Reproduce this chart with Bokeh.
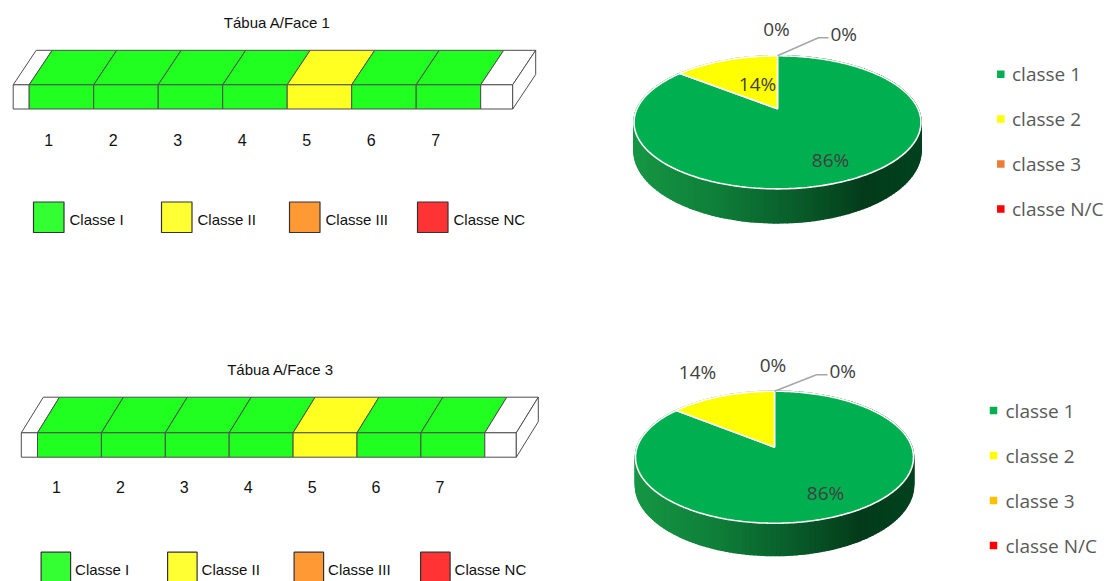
import numpy as np
from bokeh.plotting import figure
from bokeh.models import Range1d
from bokeh.core.properties import value
from bokeh.embed import file_html
from bokeh.resources import INLINE

# ---------------- data ----------------
segment_numbers = [1, 2, 3, 4, 5, 6, 7]
board_titles = ["Tábua A/Face 1", "Tábua A/Face 3"]
face1_classes = ["Classe I", "Classe I", "Classe I", "Classe I", "Classe II", "Classe I", "Classe I"]
face3_classes = ["Classe I", "Classe I", "Classe I", "Classe I", "Classe II", "Classe I", "Classe I"]

class_names = ["Classe I", "Classe II", "Classe III", "Classe NC"]
class_swatch_colors = ["#33FF33", "#FFFF33", "#FF9933", "#FF3333"]
class_beam_colors = ["#21FF21", "#FFFF21", "#FF9933", "#FF3333"]

pie_legend_names = ["classe 1", "classe 2", "classe 3", "classe N/C"]
pie_colors_face1 = ["#00B050", "#FFFF00", "#ED7D31", "#FF0000"]
pie_colors_face3 = ["#00B050", "#FFFF00", "#FFC000", "#FF0000"]

# ---------------- layout / style ----------------
NARROW = value("'Liberation Sans Narrow', 'Arial Narrow', 'Liberation Sans', sans-serif")
PIEFONT = value("Open Sans")

panels = [
    dict(title=board_titles[0], classes=face1_classes, pie_colors=pie_colors_face1,
         beam=dict(x0=12.7, yt=84.3, H=24.2, end_l=16.0, seg_w=64.5, end_r=32.0, dx=23.0, dy=34.5),
         title_xy=(276.7, 21.7), tick_y=139.5, tick_dx=19.5,
         legend=dict(x0=33.0, y0=201.5, box=30.5, step=128.0, text_dx=36.0),
         pie=dict(cx=777.0, cy=108.3, a=140.5, b=63.8, k=0.203, h=27.1),
         label_off=[(53, 51), (-20, -25), (-1, -80), None],
         leader=(41.0, -18.0, 10.0),
         pie_legend=dict(mx=1000.3, tx=1011.5, y0=73.7, step=44.9)),
    dict(title=board_titles[1], classes=face3_classes, pie_colors=pie_colors_face3,
         beam=dict(x0=20.8, yt=432.3, H=24.4, end_l=16.2, seg_w=63.9, end_r=31.5, dx=22.0, dy=35.6),
         title_xy=(280.0, 368.5), tick_y=486.7, tick_dx=19.0,
         legend=dict(x0=40.6, y0=551.7, box=29.5, step=126.5, text_dx=34.0),
         pie=dict(cx=774.0, cy=446.7, a=137.4, b=64.5, k=0.1515, h=27.4),
         label_off=[(51, 46), (-77, -75), (-1.5, -82), None],
         leader=(42.0, -16.4, 11.0),
         pie_legend=dict(mx=993.0, tx=1005.0, y0=410.0, step=45.0)),
]

p = figure(width=1118, height=581, output_backend="svg", toolbar_location=None,
           x_range=Range1d(0, 1118), y_range=Range1d(581, 0),
           min_border=0, x_axis_location=None, y_axis_location=None,
           background_fill_color="white", border_fill_color="white")
p.outline_line_color = None
p.grid.visible = False

EDGE = "#4d4d4d"


def hex_rgb(h):
    h = h.lstrip("#")
    return tuple(int(h[i:i + 2], 16) for i in (0, 2, 4))


def shade(color, t):
    # darkening of the pie wall from left (lit) to right (shadow)
    f = np.interp(t, [0.0, 0.3, 0.6, 0.8, 1.0], [0.86, 0.72, 0.50, 0.34, 0.38])
    r, g, b = hex_rgb(color)
    lift = 22 * (1 - t)
    return "#%02x%02x%02x" % (int(min(255, r * f + lift)), int(min(255, g * f)), int(min(255, b * f)))


def project(pie, theta, r=1.0):
    u = r * np.sin(theta)
    v = r * np.cos(theta)
    d = 1.0 + pie["k"] * v
    return pie["cx"] + pie["a"] * u / d, pie["cy"] - pie["b"] * v / d


def drop(pie, theta):
    return pie["h"] / (1.0 + pie["k"] * np.cos(theta))


for panel in panels:
    bm = panel["beam"]
    color_of = dict(zip(class_names, class_beam_colors))

    # ---- beam: pieces along the length (white ends + graded segments) ----
    pieces = [(bm["x0"], bm["x0"] + bm["end_l"], "white")]
    for n, cls in zip(segment_numbers, panel["classes"]):
        xl = bm["x0"] + bm["end_l"] + (n - 1) * bm["seg_w"]
        pieces.append((xl, xl + bm["seg_w"], color_of[cls]))
    x_last = pieces[-1][1]
    pieces.append((x_last, x_last + bm["end_r"], "white"))

    yt, H, dx, dy = bm["yt"], bm["H"], bm["dx"], bm["dy"]
    top_xs = [[xl, xr, xr + dx, xl + dx] for xl, xr, _ in pieces]
    top_ys = [[yt, yt, yt - dy, yt - dy] for _ in pieces]
    front_xs = [[xl, xr, xr, xl] for xl, xr, _ in pieces]
    front_ys = [[yt, yt, yt + H, yt + H] for _ in pieces]
    fills = [c for _, _, c in pieces]
    p.patches(top_xs, top_ys, fill_color=fills, line_color=EDGE, line_width=1)
    p.patches(front_xs, front_ys, fill_color=fills, line_color=EDGE, line_width=1)
    xr_end = pieces[-1][1]
    p.patch([xr_end, xr_end + dx, xr_end + dx, xr_end],
            [yt, yt - dy, yt - dy + H, yt + H],
            fill_color="white", line_color=EDGE, line_width=1)

    # segment numbers
    tick_x = [bm["x0"] + bm["end_l"] + (n - 1) * bm["seg_w"] + panel["tick_dx"] for n in segment_numbers]
    p.text(x=tick_x, y=[panel["tick_y"]] * len(tick_x), text=[str(n) for n in segment_numbers],
           text_font=NARROW, text_font_size="16px", text_align="center",
           text_baseline="middle", text_color="#111111")

    # title
    tx, ty = panel["title_xy"]
    p.text(x=[tx], y=[ty], text=[panel["title"]], text_font=NARROW, text_font_size="15px",
           text_align="center", text_baseline="middle", text_color="#111111")

    # class legend under the beam
    lg = panel["legend"]
    bx = [lg["x0"] + i * lg["step"] for i in range(len(class_names))]
    p.quad(left=bx, right=[x + lg["box"] for x in bx], top=[lg["y0"]] * 4,
           bottom=[lg["y0"] + lg["box"]] * 4, fill_color=class_swatch_colors,
           line_color="#333333", line_width=1.2)
    p.text(x=[x + lg["text_dx"] for x in bx], y=[lg["y0"] + lg["box"] / 2 + 2.5] * 4,
           text=class_names, text_font=NARROW, text_font_size="15px",
           text_align="left", text_baseline="middle", text_color="#111111")

    # ---- 3D pie of class shares ----
    pie = panel["pie"]
    counts = [sum(1 for c in panel["classes"] if c == name) for name in class_names]
    total = sum(counts)
    fractions = [c / total for c in counts]
    bounds = np.concatenate([[0.0], np.cumsum(fractions)]) * 2 * np.pi

    half_w = pie["a"] / np.sqrt(1 - pie["k"] ** 2)
    strips = []
    for i, col in enumerate(panel["pie_colors"]):
        t0, t1 = bounds[i], bounds[i + 1]
        if t1 - t0 <= 0:
            continue
        n = max(2, int(np.ceil((t1 - t0) / np.radians(1.5))))
        th = np.linspace(t0, t1, n + 1)
        for a0, a1 in zip(th[:-1], th[1:]):
            x0, y0 = project(pie, a0)
            x1, y1 = project(pie, a1)
            xs = [x0, x1, x1, x0]
            ys = [y0, y1, y1 + drop(pie, a1), y0 + drop(pie, a0)]
            tpos = ((x0 + x1) / 2 - (pie["cx"] - half_w)) / (2 * half_w)
            strips.append((np.cos((a0 + a1) / 2), xs, ys, shade(col, float(np.clip(tpos, 0, 1)))))
    strips.sort(key=lambda s: -s[0])
    p.patches([s[1] for s in strips], [s[2] for s in strips], fill_color=[s[3] for s in strips],
              line_color=[s[3] for s in strips], line_width=1.6, line_join="round")

    wedge_xs, wedge_ys, wedge_cols = [], [], []
    for i, col in enumerate(panel["pie_colors"]):
        t0, t1 = bounds[i], bounds[i + 1]
        if t1 - t0 <= 0:
            continue
        th = np.linspace(t0, t1, max(3, int(np.ceil((t1 - t0) / np.radians(1.0)))))
        rx, ry = project(pie, th)
        wedge_xs.append([pie["cx"]] + list(rx))
        wedge_ys.append([pie["cy"]] + list(ry))
        wedge_cols.append(col)
    p.patches(wedge_xs, wedge_ys, fill_color=wedge_cols, line_color="white", line_width=1.6)

    # percentage labels
    labels = ["%d%%" % round(100 * f) for f in fractions]
    lab_x, lab_y, lab_t = [], [], []
    for lbl, off in zip(labels, panel["label_off"]):
        if off is None:
            continue
        lab_x.append(pie["cx"] + off[0])
        lab_y.append(pie["cy"] + off[1])
        lab_t.append(lbl)
    p.text(x=lab_x, y=lab_y, text=lab_t, text_font=PIEFONT, text_font_size="19px",
           text_align="center", text_baseline="middle", text_color="#404040")

    # leader line for the last (zero) slice
    rim_x, rim_y = project(pie, bounds[-1])
    ldx, ldy, lh = panel["leader"]
    p.line([rim_x, rim_x + ldx, rim_x + ldx + lh], [rim_y, rim_y + ldy, rim_y + ldy],
           line_color="#A6A6A6", line_width=1.5)
    p.text(x=[rim_x + ldx + lh + 2], y=[rim_y + ldy - 4], text=[labels[-1]], text_font=PIEFONT,
           text_font_size="19px", text_align="left", text_baseline="middle", text_color="#404040")

    # pie legend
    pl = panel["pie_legend"]
    ly = [pl["y0"] + i * pl["step"] for i in range(len(pie_legend_names))]
    p.scatter(x=[pl["mx"]] * 4, y=ly, marker="square", size=7.5,
              fill_color=panel["pie_colors"], line_color=None)
    p.text(x=[pl["tx"]] * 4, y=ly, text=pie_legend_names, text_font=PIEFONT,
           text_font_size="19px", text_align="left", text_baseline="middle", text_color="#595959")

open("out.html", "w").write(file_html(p, INLINE))
